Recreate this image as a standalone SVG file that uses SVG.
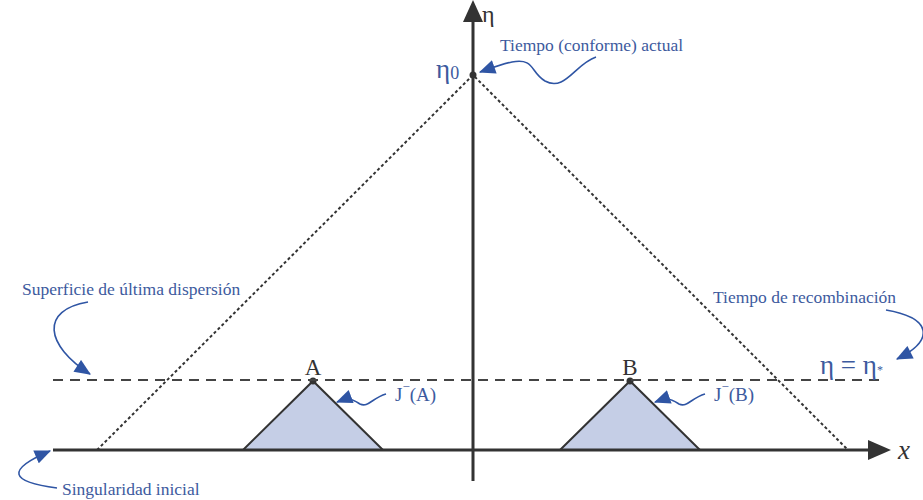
<svg xmlns="http://www.w3.org/2000/svg" width="923" height="500" viewBox="0 0 923 500">
<style>
.lbl{font-family:"Liberation Serif","DejaVu Serif",serif;fill:#3d5a9e;font-size:17.5px}
.jl{font-family:"Liberation Serif","DejaVu Serif",serif;fill:#3d5a9e;font-size:19px}
.big{font-family:"Liberation Serif","DejaVu Serif",serif;fill:#3d5a9e;font-size:27px}
.blk{font-family:"Liberation Serif","DejaVu Serif",serif;fill:#333;font-size:23px}
.ax{stroke:#333;stroke-width:3;fill:none}
.dot{stroke:#333;stroke-width:2;stroke-dasharray:3 2.5;fill:none}
.dash{stroke:#444;stroke-width:2;stroke-dasharray:10 7;fill:none}
.tri{fill:#c5cee6;stroke:#333;stroke-width:2}
.ba{stroke:#2f55a4;stroke-width:1.6;fill:none;marker-end:url(#bh)}
</style>
<defs>
<marker id="bh" viewBox="0 0 14 12" refX="13" refY="6" markerWidth="17" markerHeight="14" markerUnits="userSpaceOnUse" orient="auto"><path d="M0,0 L14,6 L0,12 z" fill="#2f55a4"/></marker>
</defs>
<g id="cones">
<path class="dot" d="M97,450 L473,75 L848,450"/>
</g>
<g id="triA"><polygon class="tri" points="243,450 313,381 383,450"/><circle cx="313" cy="381" r="3.5" fill="#333"/><text class="blk" x="313" y="375" text-anchor="middle">A</text></g>
<g id="triB"><polygon class="tri" points="560,450 630,381 700,450"/><circle cx="630" cy="381" r="3.5" fill="#333"/><text class="blk" x="630" y="375" text-anchor="middle">B</text></g>
<g id="surface"><line class="dash" x1="53" y1="380" x2="882" y2="380"/></g>
<g id="axes">
<line class="ax" x1="53" y1="450" x2="870" y2="450"/>
<polygon points="868,440 891,450 868,460" fill="#333"/>
<text x="898" y="459" style="font-family:'Liberation Serif',serif;font-style:italic;font-size:27px;fill:#333">x</text>
<line class="ax" x1="473" y1="481" x2="473" y2="20"/>
<polygon points="463,22 473,0 483,22" fill="#333"/>
<text x="482" y="22" style="font-family:'Liberation Serif',serif;font-size:24px;fill:#333">η</text>
<circle cx="473" cy="75" r="3.5" fill="#333"/>
</g>
<g id="labels">
<text class="big" x="436" y="78">η<tspan font-size="18" dy="1">0</tspan></text>
<text class="lbl" x="500" y="51">Tiempo (conforme) actual</text>
<text class="lbl" x="22" y="295">Superficie de última dispersión</text>
<text class="lbl" x="713" y="303">Tiempo de recombinación</text>
<text class="big" x="820" y="374">η = η<tspan font-size="12">*</tspan></text>
<text class="jl" x="395" y="401">J<tspan font-size="13" dy="-10">−</tspan><tspan dy="10">(A)</tspan></text>
<text class="jl" x="714" y="401">J<tspan font-size="13" dy="-10">−</tspan><tspan dy="10">(B)</tspan></text>
<text class="lbl" x="62" y="495">Singularidad inicial</text>
</g>
<g id="connectors">
<path class="ba" d="M596,57 C575,64 565,92 545,81 C530,72 535,58 512,62 C502,64 494,67 480,72"/>
<path class="ba" d="M88,302 C40,310 45,345 90,374"/>
<path class="ba" d="M886,310 C932,318 935,340 897,359"/>
<path class="ba" d="M386,394 C372,398 368,408 360,404 C352,399 350,397 337,402"/>
<path class="ba" d="M705,394 C691,398 687,408 679,404 C671,399 669,397 655,402"/>
<path class="ba" d="M57,488 C10,482 5,470 50,451"/>
</g>
</svg>
